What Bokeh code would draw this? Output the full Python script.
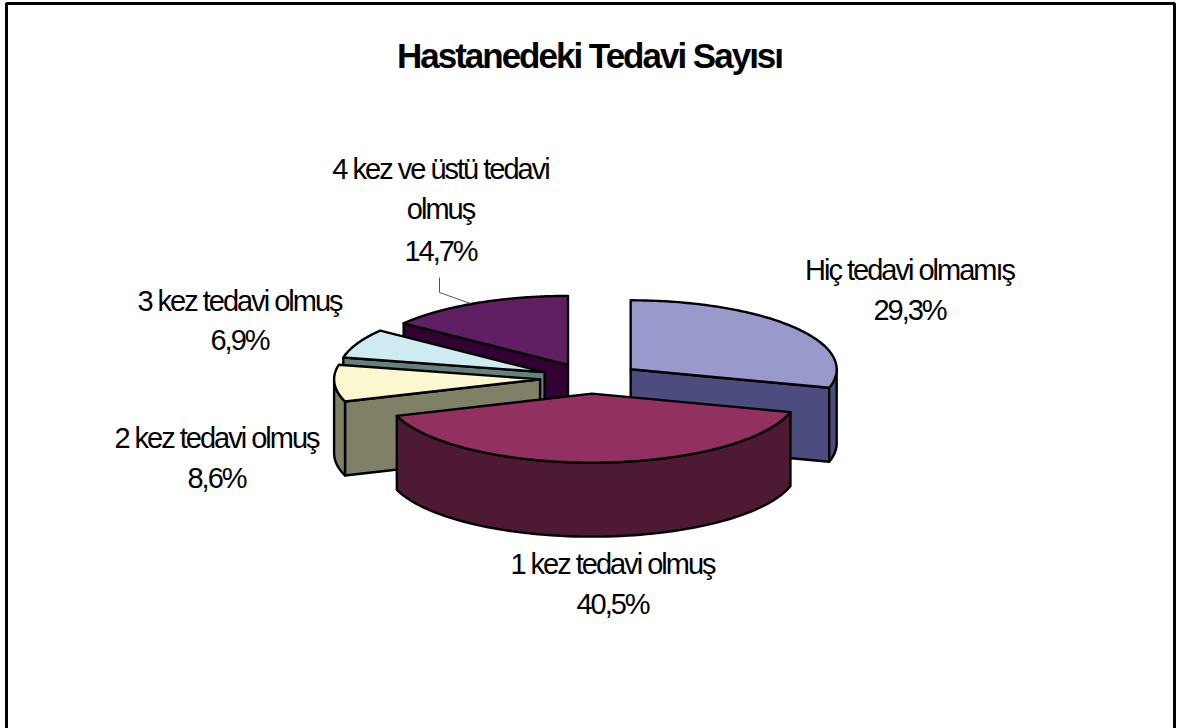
import numpy as np
from bokeh.plotting import figure
from bokeh.models import Range1d
from bokeh.core.properties import value
from bokeh.embed import file_html
from bokeh.resources import INLINE

# --- data, in drawing order of the pie (clockwise from 12 o'clock)
title = "Hastanedeki Tedavi Sayısı"
categories = ["Hiç tedavi olmamış", "1 kez tedavi olmuş", "2 kez tedavi olmuş",
              "3 kez tedavi olmuş", "4 kez ve üstü tedavi olmuş"]
shares = [29.3, 40.5, 8.6, 6.9, 14.7]
pct_labels = ["29,3%", "40,5%", "8,6%", "6,9%", "14,7%"]
top_colors = ["#9999CC", "#923060", "#FBF7CE", "#CDEBF0", "#601F62"]
side_colors = ["#4C4C7F", "#4D1933", "#808066", "#668080", "#330033"]

# --- layout (page pixels)
W, H = 1177, 728
CX, CY = 590, 378
RX, RY = 206, 69
DEPTH = 74
EXPLODE_X, EXPLODE_Y = 0.245, 0.22
SPACING = 2  # px of negative letter-spacing; Bokeh anchors on the unspaced width
FS_LABEL = "29px"
FS_TITLE = "35px"
FONT = value("Liberation Sans")
label_rows = [
    (909, [(269, 0), (309, 1)]),
    (612, [(563, 0), (603, 1)]),
    (216, [(437, 0), (477, 1)]),
    (239, [(300, 0), (339, 1)]),
]

p = figure(width=W, height=H, output_backend="svg", toolbar_location=None,
           x_range=Range1d(0, W), y_range=Range1d(H, 0),
           min_border=0, outline_line_color=None, background_fill_color="white",
           border_fill_color="white", styles={"letter-spacing": f"-{SPACING}px"})
p.xaxis.visible = False
p.yaxis.visible = False
p.grid.visible = False

# frame: open at the bottom of the picture
p.line([6, 6, 1174, 1174], [H + 20, 3, 3, H + 20], line_color="black", line_width=3)

shares_arr = np.array(shares)
edges = np.radians(np.concatenate([[0], np.cumsum(shares_arr)]) / shares_arr.sum() * 360)


def apex(i):
    mid = (edges[i] + edges[i + 1]) / 2
    return CX + EXPLODE_X * RX * np.sin(mid), CY - EXPLODE_Y * RY * np.cos(mid)


def rim(i, a):
    ax, ay = apex(i)
    return ax + RX * np.sin(a), ay - RY * np.cos(a)


def draw(xs, ys, color):
    p.patch(list(xs), list(ys), fill_color=color, line_color="black",
            line_width=2.4, line_join="round")


def cut_face(i, a):
    ax, ay = apex(i)
    rx, ry = rim(i, a)
    draw([ax, rx, rx, ax], [ay, ry, ry + DEPTH, ay + DEPTH], side_colors[i])


def outer_wall(i):
    lo, hi = max(edges[i], np.pi / 2), min(edges[i + 1], 3 * np.pi / 2)
    if hi <= lo:
        return
    a = np.linspace(lo, hi, 80)
    x, y = rim(i, a)
    draw(np.r_[x, x[::-1]], np.r_[y, y[::-1] + DEPTH], side_colors[i])


def top_face(i):
    ax, ay = apex(i)
    a = np.linspace(edges[i], edges[i + 1], 120)
    x, y = rim(i, a)
    draw(np.r_[ax, x], np.r_[ay, y], top_colors[i])


# back to front: 4 kez, 3 kez, 2 kez, Hiç, 1 kez
cut_face(4, edges[4]); top_face(4)
cut_face(3, edges[3]); top_face(3)
cut_face(2, edges[2]); outer_wall(2); top_face(2)
cut_face(0, edges[1]); outer_wall(0); top_face(0)
outer_wall(1); top_face(1)

# leader line of the 4 kez label
p.line([439, 439, 470], [277, 292, 303], line_color="#555555", line_width=1)


# texts
def put(x, y, s, size, style="normal"):
    p.text([x + len(s) * SPACING / 2], [y], text=[s], text_font=FONT,
           text_font_size=size, text_font_style=style, text_align="center",
           text_baseline="middle", text_color="black")


put(589, 55, title, FS_TITLE, "bold")
for i, (x, rows) in enumerate(label_rows):
    strs = [categories[i], pct_labels[i]]
    for y, k in rows:
        put(x, y, strs[k], FS_LABEL)
first, second = categories[4].rsplit(" ", 1)
for y, s in zip([168, 208, 250], [first, second, pct_labels[4]]):
    put(440, y, s, FS_LABEL)

open("out.html", "w").write(file_html(p, INLINE))
